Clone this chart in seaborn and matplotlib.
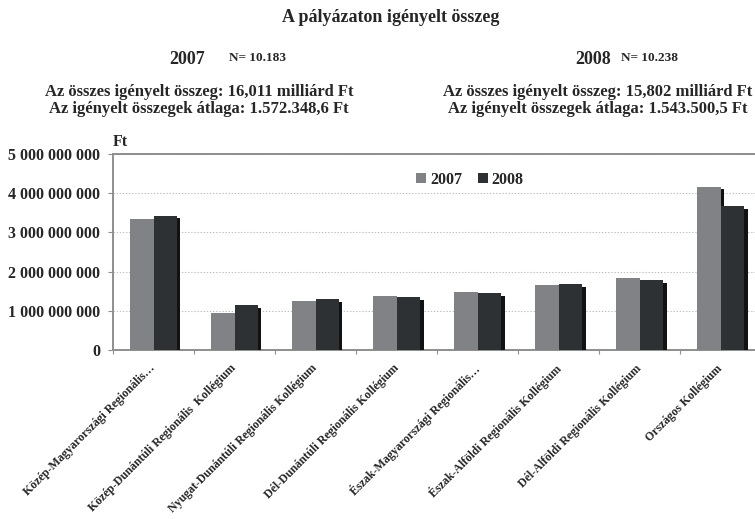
import numpy as np
import pandas as pd
import matplotlib
matplotlib.use("Agg")
import matplotlib.pyplot as plt
import matplotlib.patheffects as pe
from matplotlib.ticker import FuncFormatter, FixedLocator
import seaborn as sns

# Pályázati kollégiumok és az igényelt összegek (Ft)
kollegiumok = [
    "Közép-Magyarországi Regionális…",
    "Közép-Dunántúli Regionális  Kollégium",
    "Nyugat-Dunántúli Regionális Kollégium",
    "Dél-Dunántúli Regionális Kollégium",
    "Észak-Magyarországi Regionális…",
    "Észak-Alföldi Regionális Kollégium",
    "Dél-Alföldi Regionális Kollégium",
    "Országos Kollégium",
]
osszeg_2007 = [3.33e9, 0.94e9, 1.25e9, 1.38e9, 1.49e9, 1.66e9, 1.83e9, 4.17e9]
osszeg_2008 = [3.43e9, 1.14e9, 1.30e9, 1.34e9, 1.46e9, 1.69e9, 1.78e9, 3.67e9]
evek = ["2007", "2008"]
y_ticks = [0, 1e9, 2e9, 3e9, 4e9, 5e9]

cim = "A pályázaton igényelt összeg"
n_ertekek = ["N= 10.183", "N= 10.238"]
osszesen = ["Az összes igényelt összeg: 16,011 milliárd Ft",
            "Az összes igényelt összeg: 15,802 milliárd Ft"]
atlagok = ["Az igényelt összegek átlaga: 1.572.348,6 Ft",
           "Az igényelt összegek átlaga: 1.543.500,5 Ft"]

df = pd.DataFrame({
    "kollegium": kollegiumok * 2,
    "ev": [evek[0]] * len(kollegiumok) + [evek[1]] * len(kollegiumok),
    "osszeg": osszeg_2007 + osszeg_2008,
})

sns.set_style("white")
plt.rcParams["font.family"] = ["Liberation Serif", "DejaVu Serif"]
plt.rcParams["font.weight"] = "bold"

W, H = 755, 519
fig = plt.figure(figsize=(W / 100, H / 100), dpi=100)
ax = fig.add_axes([113 / W, 1 - 350 / H, 648.5 / W, 196 / H])

sns.barplot(data=df, x="kollegium", y="osszeg", hue="ev",
            palette=["#808285", "#2e3134"], saturation=1, width=0.58,
            errorbar=None, ax=ax, zorder=3, edgecolor="none")

# jelmagyarázat a rajzterület felső részén (az árnyékok előtt, hogy a négyzetek simák maradjanak)
handles, labels = ax.get_legend_handles_labels()
ax.legend(handles, labels, loc="center", bbox_to_anchor=(470 / W, 1 - 180 / H),
          bbox_transform=fig.transFigure, ncol=2, frameon=False,
          handlelength=0.6, handleheight=0.6, handletextpad=0.25,
          columnspacing=1.0, prop={"weight": "bold", "size": 11.5})

# árnyék a jobb alsó oldalon
for bar in ax.patches:
    bar.set_path_effects([
        pe.SimplePatchShadow(offset=(2.4, -2.0), shadow_rgbFace="#121212", alpha=1.0),
        pe.Normal(),
    ])

ax.set_ylim(0, 5e9)
ax.yaxis.set_major_locator(FixedLocator(y_ticks))
ax.yaxis.set_major_formatter(FuncFormatter(lambda v, _: f"{v:,.0f}".replace(",", " ")))
ax.yaxis.grid(True, linestyle=(0, (1.2, 1.6)), color="#bdbdbd", linewidth=0.8, zorder=0)
ax.set_axisbelow(True)
ax.set_xlabel("")
ax.set_ylabel("")

for side in ["left", "top", "bottom"]:
    ax.spines[side].set_visible(True)
    ax.spines[side].set_color("#8e8e8e")
    ax.spines[side].set_linewidth(1.4)
ax.spines["right"].set_visible(False)

ax.tick_params(axis="y", which="major", left=True, length=3.6, width=0.8,
               color="#8e8e8e", pad=5.5, labelsize=11.5)
for lab in ax.get_yticklabels():
    lab.set_fontweight("bold")

# kategóriák közötti osztások
n = len(kollegiumok)
ax.set_xticks(np.arange(n + 1) - 0.5, minor=True)
ax.tick_params(axis="x", which="minor", bottom=True, length=3, width=0.8, color="#8e8e8e")
ax.tick_params(axis="x", which="major", bottom=False, length=0, pad=12)
ax.set_xticks(np.arange(n))
ax.set_xticklabels(kollegiumok, rotation=45, ha="right", va="center",
                   rotation_mode="anchor", fontsize=8.6, fontweight="bold")

ax.text(0.0, 1.06, "Ft", transform=ax.transAxes, fontsize=11.5,
        fontweight="bold", ha="left", va="center")

def ft(x, y, s, size, ha="center"):
    fig.text(x / W, 1 - y / H, s, ha=ha, va="center", fontsize=size, fontweight="bold")

ft(391, 18, cim, 13)
ft(187, 60, evek[0], 13)
ft(229, 58, n_ertekek[0], 9.5, ha="left")
ft(593, 60, evek[1], 13)
ft(621, 58, n_ertekek[1], 9.5, ha="left")
ft(199, 92, osszesen[0], 12)
ft(199, 109, atlagok[0], 12)
ft(598, 92, osszesen[1], 12)
ft(598, 109, atlagok[1], 12)

fig.savefig("out.png", dpi=100, facecolor="white")
